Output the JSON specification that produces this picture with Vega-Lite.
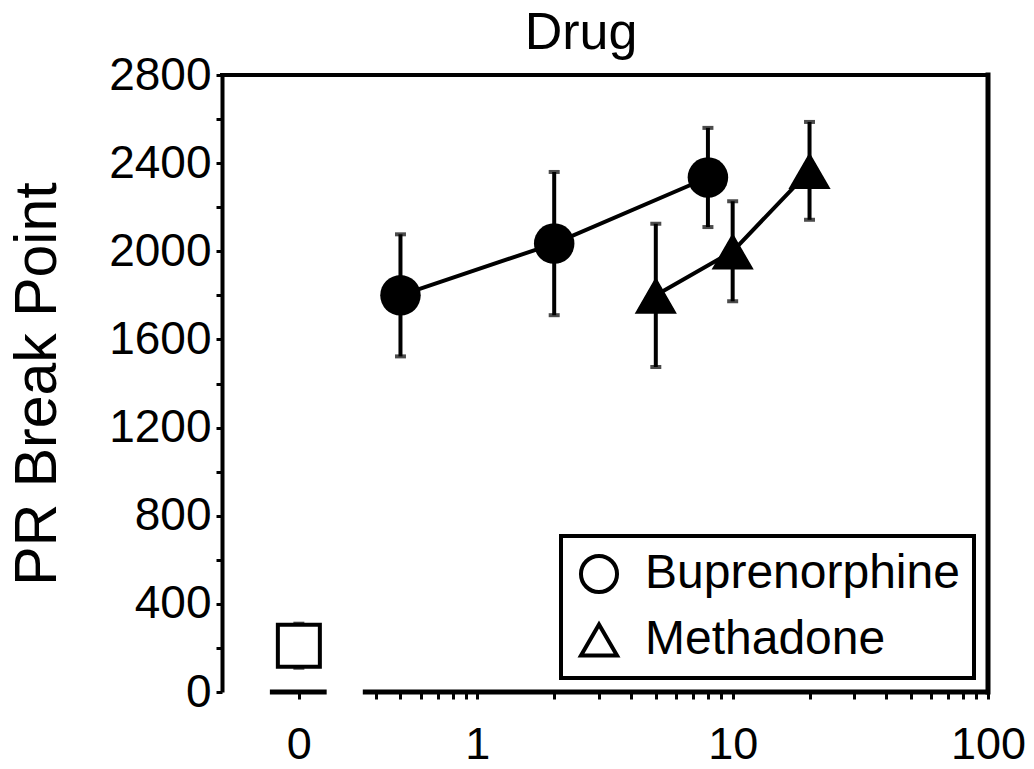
{
  "$schema": "https://vega.github.io/schema/vega-lite/v6.json",
  "width": 766,
  "height": 617,
  "autosize": {"type": "none"},
  "padding": {"left": 222, "top": 75, "right": 46, "bottom": 77},
  "background": "white",
  "config": {
    "view": {"stroke": null},
    "font": "Liberation Sans",
    "axis": {"grid": false, "labelColor": "black", "titleColor": "black", "tickColor": "black", "domainColor": "black"},
    "legend": {"strokeWidth": 4}
  },
  "title": {"text": "Drug", "fontSize": 52, "fontWeight": "normal", "font": "Liberation Sans", "color": "black", "frame": "group", "offset": -8, "dx": -24},
  "datasets": {
    "drug": [
      {"drug": "Buprenorphine", "dose": 0.5, "mean": 1800, "sem": 277},
      {"drug": "Buprenorphine", "dose": 2, "mean": 2035, "sem": 325},
      {"drug": "Buprenorphine", "dose": 8, "mean": 2335, "sem": 225},
      {"drug": "Methadone", "dose": 5, "mean": 1800, "sem": 325},
      {"drug": "Methadone", "dose": 10, "mean": 2000, "sem": 227},
      {"drug": "Methadone", "dose": 20, "mean": 2365, "sem": 222}
    ],
    "control": [
      {"drug": "Vehicle", "dose": 0.2, "mean": 210, "sem": 100}
    ]
  },
  "layer": [
    {
      "data": {"name": "drug"},
      "mark": {"type": "errorbar", "color": "black", "ticks": {"size": 11, "thickness": 4, "color": "black"}, "rule": {"strokeWidth": 4, "color": "black"}},
      "encoding": {
        "x": {
          "field": "dose", "type": "quantitative",
          "scale": {"type": "log", "domain": [0.1, 100], "nice": false},
          "axis": {
            "title": null,
            "domain": false,
            "values": [0.2, 0.4, 0.5, 0.6, 0.7, 0.8, 0.9, 1, 2, 3, 4, 5, 6, 7, 8, 9, 10, 20, 30, 40, 50, 60, 70, 80, 90, 100],
            "labelExpr": "datum.value === 0.2 ? '0' : (datum.value === 1 ? '1' : (datum.value === 10 ? '10' : (datum.value === 100 ? '100' : '')))",
            "labelFontSize": 45,
            "labelPadding": 23,
            "labelFlush": false,
            "labelOverlap": false,
            "tickSize": 7,
            "tickWidth": 3
          }
        },
        "y": {
          "field": "mean", "type": "quantitative",
          "scale": {"domain": [0, 2800], "nice": false},
          "axis": {
            "title": "PR Break Point",
            "titleFontSize": 59,
            "titleFontWeight": "normal",
            "titlePadding": 41,
            "values": [0, 200, 400, 600, 800, 1000, 1200, 1400, 1600, 1800, 2000, 2200, 2400, 2600, 2800],
            "labelExpr": "datum.value % 400 === 0 ? datum.label : ''",
            "format": "d",
            "labelFontSize": 46,
            "labelPadding": 5,
            "labelFlush": false,
            "labelOverlap": false,
            "tickSize": 6,
            "tickWidth": 3,
            "domainWidth": 4
          }
        },
        "yError": {"field": "sem"}
      }
    },
    {
      "data": {"name": "control"},
      "mark": {"type": "errorbar", "color": "black", "ticks": {"size": 11, "thickness": 4, "color": "black"}, "rule": {"strokeWidth": 4, "color": "black"}},
      "encoding": {
        "x": {"field": "dose", "type": "quantitative", "title": null},
        "y": {"field": "mean", "type": "quantitative", "title": "PR Break Point"},
        "yError": {"field": "sem"}
      }
    },
    {
      "data": {"name": "drug"},
      "mark": {"type": "line", "color": "black", "strokeWidth": 4},
      "encoding": {
        "x": {"field": "dose", "type": "quantitative", "title": null},
        "y": {"field": "mean", "type": "quantitative", "title": "PR Break Point"},
        "detail": {"field": "drug"}
      }
    },
    {
      "data": {"name": "control"},
      "mark": {"type": "point", "shape": "square", "filled": false, "fill": "white", "fillOpacity": 1, "stroke": "black", "strokeWidth": 4, "size": 1764, "opacity": 1},
      "encoding": {
        "x": {"field": "dose", "type": "quantitative", "title": null},
        "y": {"field": "mean", "type": "quantitative", "title": "PR Break Point"}
      }
    },
    {
      "data": {"name": "drug"},
      "mark": {"type": "point", "filled": false, "color": "black", "strokeWidth": 4, "size": 900, "opacity": 1},
      "encoding": {
        "x": {"field": "dose", "type": "quantitative", "title": null},
        "y": {"field": "mean", "type": "quantitative", "title": "PR Break Point"},
        "shape": {
          "field": "drug", "type": "nominal",
          "scale": {"domain": ["Buprenorphine", "Methadone"], "range": ["circle", "triangle-up"]},
          "legend": {
            "title": null,
            "orient": "bottom-right",
            "offset": 14,
            "padding": 14,
            "strokeColor": "black",
            "fillColor": "white",
            "labelFont": "Liberation Sans",
            "labelFontSize": 48,
            "labelColor": "black",
            "labelLimit": 600,
            "labelOffset": 22,
            "rowPadding": 15,
            "symbolSize": 1300,
            "symbolStrokeWidth": 4,
            "symbolStrokeColor": "black"
          }
        }
      }
    },
    {
      "data": {"name": "drug"},
      "mark": {"type": "point", "filled": true, "color": "black", "opacity": 1},
      "encoding": {
        "x": {"field": "dose", "type": "quantitative", "title": null},
        "y": {"field": "mean", "type": "quantitative", "title": "PR Break Point"},
        "shape": {"field": "drug", "type": "nominal", "legend": null},
        "size": {"condition": {"test": "datum.drug === 'Methadone'", "value": 1780}, "value": 1640}
      }
    },
    {
      "data": {"values": [{}]},
      "mark": {"type": "rule", "color": "black", "strokeWidth": 4, "strokeCap": "square"},
      "encoding": {
        "x": {"datum": 0.1, "type": "quantitative"},
        "x2": {"datum": 100},
        "y": {"datum": 2800, "type": "quantitative"}
      }
    },
    {
      "data": {"values": [{}]},
      "mark": {"type": "rule", "color": "black", "strokeWidth": 5, "strokeCap": "square"},
      "encoding": {
        "x": {"datum": 100, "type": "quantitative"},
        "y": {"datum": 0, "type": "quantitative"},
        "y2": {"datum": 2800}
      }
    },
    {
      "data": {"values": [{}]},
      "mark": {"type": "rule", "color": "black", "strokeWidth": 5},
      "encoding": {
        "x": {"datum": 0.154, "type": "quantitative"},
        "x2": {"datum": 0.257},
        "y": {"datum": 0, "type": "quantitative"}
      }
    },
    {
      "data": {"values": [{}]},
      "mark": {"type": "rule", "color": "black", "strokeWidth": 5},
      "encoding": {
        "x": {"datum": 0.356, "type": "quantitative"},
        "x2": {"datum": 100},
        "y": {"datum": 0, "type": "quantitative"}
      }
    }
  ]
}
